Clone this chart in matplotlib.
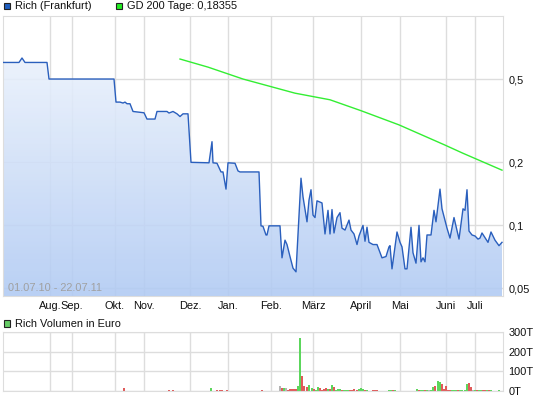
import numpy as np
import matplotlib
matplotlib.use("Agg")
import matplotlib.pyplot as plt
from matplotlib.patches import Rectangle
from matplotlib.colors import LinearSegmentedColormap
from matplotlib.ticker import FixedLocator, NullLocator, NullFormatter

plt.rcParams['font.family'] = ['Liberation Sans', 'DejaVu Sans']

# x axis = trading-day index (days with quotes only)
months = ["Aug.", "Sep.", "Okt.", "Nov.", "Dez.", "Jan.", "Feb.",
          "März", "April", "Mai", "Juni", "Juli"]
month_pos = [23.5, 34.5, 56, 70.5, 93.5, 112.5, 134, 155, 179, 198.5, 221.5, 236]
n_days = 250

price_day = [0, 8, 9.5, 11, 22, 23, 55.5, 56.5, 58.5, 60, 61, 62, 63.5, 65, 70.5,
             72, 76, 77, 82, 83, 85, 87, 88.5, 90, 92.5, 94, 103, 104.5, 105, 107,
             109, 110, 111.5, 112.5, 116, 117.5, 118.5, 128, 129, 130, 131.5, 132,
             133, 138.5, 139.5, 141, 142, 143.5, 145, 146.5, 149, 150, 152, 153,
             154, 155, 156, 157, 159.5, 161, 162.5, 163.5, 164.5, 165.5, 167,
             168.5, 169.5, 171, 173, 174, 175.5, 177, 178, 180, 181, 182, 183,
             185, 187, 189.5, 191.5, 193, 193.5, 194.5, 197, 198.5, 199.5, 201,
             202, 204, 205, 206.5, 208, 209, 210, 211, 212, 214, 215.5, 216.5,
             218.5, 219.5, 222, 223.5, 225.5, 228, 230, 231, 232, 233, 234.5,
             236, 237.5, 238.5, 239.5, 242.5, 244, 246, 248, 249.5]
price = [0.600, 0.600, 0.630, 0.600, 0.600, 0.500, 0.500, 0.388, 0.388, 0.384,
         0.388, 0.381, 0.381, 0.350, 0.345, 0.322, 0.322, 0.350, 0.350, 0.344,
         0.350, 0.341, 0.331, 0.341, 0.341, 0.200, 0.199, 0.251, 0.199, 0.198,
         0.180, 0.180, 0.149, 0.199, 0.198, 0.182, 0.180, 0.180, 0.0995, 0.099,
         0.090, 0.090, 0.0995, 0.0995, 0.070, 0.085, 0.081, 0.071, 0.0625,
         0.060, 0.168, 0.137, 0.104, 0.132, 0.148, 0.112, 0.109, 0.131, 0.128,
         0.091, 0.118, 0.091, 0.119, 0.092, 0.109, 0.115, 0.097, 0.095, 0.106,
         0.095, 0.091, 0.081, 0.089, 0.100, 0.084, 0.098, 0.083, 0.081, 0.081,
         0.070, 0.071, 0.079, 0.080, 0.062, 0.093, 0.083, 0.079, 0.062, 0.062,
         0.098, 0.074, 0.066, 0.100, 0.067, 0.070, 0.067, 0.090, 0.090, 0.118,
         0.104, 0.149, 0.120, 0.097, 0.087, 0.109, 0.086, 0.120, 0.118, 0.148,
         0.094, 0.090, 0.089, 0.086, 0.087, 0.092, 0.083, 0.093, 0.085, 0.080,
         0.083]

gd_day = [88.5, 102.5, 120, 146, 163.5, 179, 198, 220.5, 230, 249.5]
gd200 = [0.623, 0.570, 0.500, 0.428, 0.398, 0.353, 0.302, 0.243, 0.221, 0.18355]

# volume in thousand euro
vol_day = [60.5, 70, 83, 85, 89.5, 91.5, 93, 94, 95.5, 99, 104, 107, 108.5, 109.5,
           110.5, 112, 129.5, 131, 132.5, 135, 136.5, 138.5, 139.5, 140.5, 141.5,
           142.5, 143.5, 144.5, 145.5, 146.5, 147.5, 148.5, 149.5, 150.5, 152,
           153, 154.5, 155.5, 156.5, 157.5, 158.5, 159.5, 160.5, 161.5, 162.5,
           163.5, 164.5, 165.5, 166.5, 167.5, 168.5, 169.5, 170.5, 171.5, 172.5,
           173.5, 174.5, 175.5, 177, 178, 179, 180, 181, 182, 183, 184, 185, 186,
           187, 188, 193, 194, 195, 196, 198, 199, 200, 203, 204, 205, 207, 208,
           209, 210, 211, 212, 213, 214, 215, 216, 217.5, 218.5, 219.5, 220.5,
           221.5, 222.5, 223.5, 224.5, 225.5, 226.5, 227.5, 228.5, 229.5, 231,
           232, 233, 234, 235, 236, 237, 238, 239, 240, 241, 242, 243, 244, 245,
           246, 247, 248]
vol = [14, 2, 3, 3, 2, 2, 2, 2, 2, 2, 15, 3, 3, 4, 2, 3, 3, 2, 2, 2, 2, 27, 17,
       17, 17, 5, 8, 8, 8, 12, 27, 273, 78, 27, 19, 32, 14, 12, 7, 22, 17, 3, 8,
       14, 12, 8, 32, 22, 5, 8, 12, 7, 3, 3, 3, 3, 3, 12, 7, 10, 14, 12, 7, 7, 2,
       2, 3, 7, 3, 2, 3, 3, 7, 3, 2, 2, 2, 2, 2, 2, 12, 3, 3, 7, 3, 7, 4, 3, 22,
       27, 53, 44, 37, 12, 27, 3, 7, 3, 4, 3, 3, 3, 3, 7, 37, 42, 22, 5, 4, 3, 3,
       7, 3, 7, 7, 3, 3, 2, 2, 2, 3]
# u = up day, d = down day, n = unchanged
vol_dir = list("ddddndddunudddud"
               "dnnnnndunddddd"
               "uuddduuduu" "ddddududuu"
               "uduuuddddu" "uudunddddd"
               "uududdduuu" "uduudunuud"
               "uuddddduuu" "duuuuddnud"
               "uuddududuuu")

line_col = "#2a5fbd"
grid_col = "#dddddd"
bar_cols = {"u": "#5cd65c", "d": "#e05a5a", "n": "#b4b4b4"}

W, H = 545, 401
fig = plt.figure(figsize=(W / 100, H / 100), dpi=100)


def fx(px):
    return px / W


def fy(py):
    return 1 - py / H


ax = fig.add_axes([fx(3), fy(296), fx(500), 280 / H])
axv = fig.add_axes([fx(3), fy(391), fx(500), 58.7 / H])

# price panel
ax.set_yscale("log")
ax.set_axisbelow(True)
ax.grid(True, color=grid_col, lw=1)

poly = ax.fill_between(price_day, price, 0.01, facecolor="none", edgecolor="none")
grad = np.linspace(0, 1, 256).reshape(-1, 1)
cmap = LinearSegmentedColormap.from_list("g", ["#f4f8fe", "#b0caf3"])
im = ax.imshow(grad, extent=[0, 1, 0, 1], transform=ax.transAxes, aspect="auto",
               cmap=cmap, alpha=0.88, zorder=1)
im.set_clip_path(poly.get_paths()[0], transform=ax.transData)
ax.set_xlim(0, n_days)
ax.set_ylim(0.046, 1.0)

ax.plot(price_day, price, color=line_col, lw=1.0, zorder=3)
ax.plot(gd_day, gd200, color="#33ee33", lw=1.0, zorder=3)

ax.yaxis.set_major_locator(FixedLocator([0.05, 0.1, 0.2, 0.5]))
ax.yaxis.set_minor_locator(NullLocator())
ax.yaxis.set_minor_formatter(NullFormatter())
ax.set_yticklabels(["0,05", "0,1", "0,2", "0,5"])
ax.yaxis.tick_right()
ax.set_xticks(month_pos)
ax.set_xticklabels(months)
ax.tick_params(axis="both", length=0, labelsize=7.9, colors="#111111")
ax.tick_params(axis="y", pad=4)
ax.tick_params(axis="x", pad=3.5)
for sp in ax.spines.values():
    sp.set_color(grid_col)

ax.text(0.009, 0.03, "01.07.10 - 22.07.11", transform=ax.transAxes,
        fontsize=7.9, color="#a0a0a0", va="center", ha="left", zorder=4)

# volume panel
axv.set_xlim(0, n_days)
axv.set_ylim(0, 300)
axv.set_axisbelow(True)
axv.grid(True, color=grid_col, lw=1)
axv.bar(vol_day, vol, width=0.55, color=[bar_cols[c] for c in vol_dir], zorder=2)
axv.set_xticks(month_pos)
axv.set_xticklabels([])
axv.set_yticks([0, 100, 200, 300])
axv.set_yticklabels(["0T", "100T", "200T", "300T"])
axv.yaxis.tick_right()
axv.tick_params(axis="both", length=0, labelsize=7.9, colors="#111111")
axv.tick_params(axis="y", pad=4)
for sp in axv.spines.values():
    sp.set_color(grid_col)


# legends
def legend_box(x, y, face, label):
    fig.add_artist(Rectangle((fx(x), fy(y + 6.6)), fx(6.6), 6.6 / H,
                             facecolor=face, edgecolor="#222222", lw=0.8))
    fig.text(fx(x + 11), fy(y + 3.6), label, fontsize=7.9, va="center",
             ha="left", color="#111111")


legend_box(3.7, 2.8, "#1f5fc0", "Rich (Frankfurt)")
legend_box(115.8, 2.8, "#22ee22", "GD 200 Tage: 0,18355")
legend_box(3.7, 320.2, "#66cc66", "Rich Volumen in Euro")

fig.savefig("out.png", dpi=100)
plt.close(fig)
